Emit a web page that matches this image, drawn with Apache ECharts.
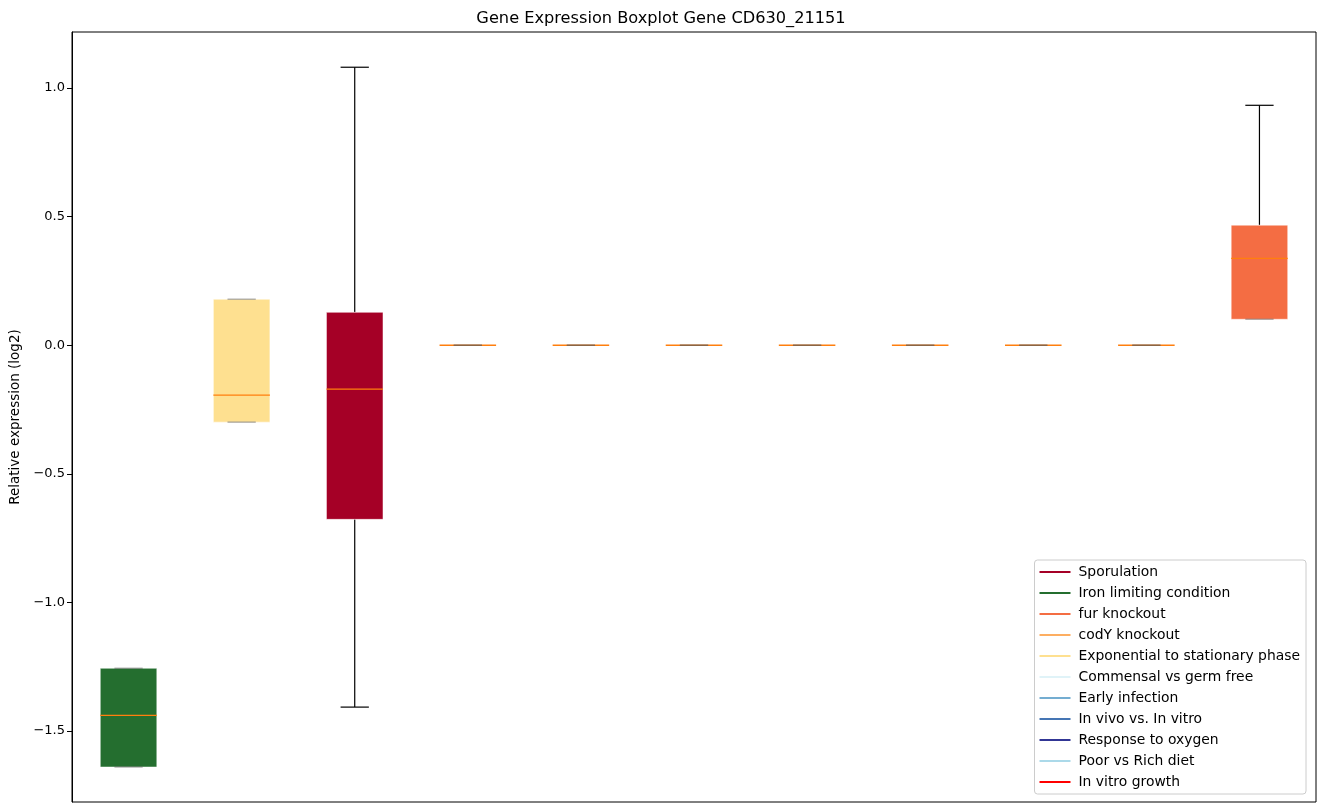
<!DOCTYPE html>
<html><head><meta charset="utf-8">
<script src="https://cdn.jsdelivr.net/npm/echarts@6/dist/echarts.min.js"></script>
<style>html,body{margin:0;padding:0;background:#fff}#c{width:1322px;height:812px}</style>
</head><body><div id="c"></div>
<script>
// Box positions (left to right)
const categories = ['Iron limiting condition','Exponential to stationary phase','Sporulation','codY knockout','Commensal vs germ free','In vitro growth','Early infection','In vivo vs. In vitro','Response to oxygen','Poor vs Rich diet','fur knockout'];
const whiskerLow  = [-1.640, -0.299, -1.407, 0, 0, 0, 0, 0, 0, 0, 0.101];
const quart1      = [-1.640, -0.299, -0.677, 0, 0, 0, 0, 0, 0, 0, 0.101];
const medians     = [-1.439, -0.194, -0.171, 0, 0, 0, 0, 0, 0, 0, 0.338];
const quart3      = [-1.256,  0.179,  0.128, 0, 0, 0, 0, 0, 0, 0, 0.467];
const whiskerHigh = [-1.256,  0.179,  1.081, 0, 0, 0, 0, 0, 0, 0, 0.933];
const boxColors   = ['#246e2f','#fee090','#a50026','#fdae61','#e0f3f8','#ff0000','#74add1','#4575b4','#313695','#abd9e9','#f46d43'];
// Legend
const legendNames  = ['Sporulation','Iron limiting condition','fur knockout','codY knockout','Exponential to stationary phase','Commensal vs germ free','Early infection','In vivo vs. In vitro','Response to oxygen','Poor vs Rich diet','In vitro growth'];
const legendColors = ['#a50026','#246e2f','#f46d43','#fdae61','#fee090','#e0f3f8','#74add1','#4575b4','#313695','#abd9e9','#ff0000'];
const yTicks = [-1.5, -1.0, -0.5, 0.0, 0.5, 1.0];

const FONT = 'DejaVu Sans';
const data = categories.map((c, i) => [i, whiskerLow[i], quart1[i], medians[i], quart3[i], whiskerHigh[i]]);

function renderItem(params, api) {
  const i = api.value(0);
  const w = api.size([1, 0])[0] * 0.5;
  const cx = api.coord([i, 0])[0];
  const yLow = api.coord([i, api.value(1)])[1];
  const yQ1 = api.coord([i, api.value(2)])[1];
  const yMed = api.coord([i, api.value(3)])[1];
  const yQ3 = api.coord([i, api.value(4)])[1];
  const yHigh = api.coord([i, api.value(5)])[1];
  const children = [];
  const black = {stroke: '#000', lineWidth: 1.2};
  if (Math.abs(yHigh - yQ3) > 0.5) {
    children.push({type: 'line', shape: {x1: cx, y1: yQ3, x2: cx, y2: yHigh}, style: black});
  }
  if (Math.abs(yLow - yQ1) > 0.5) {
    children.push({type: 'line', shape: {x1: cx, y1: yQ1, x2: cx, y2: yLow}, style: black});
  }
  children.push({type: 'rect', shape: {x: cx - w / 2, y: yQ3, width: w, height: Math.max(yQ1 - yQ3, 0)},
    style: {fill: boxColors[i], stroke: 'rgba(255,255,255,0.5)', lineWidth: 1}});
  children.push({type: 'line', shape: {x1: cx - w / 2, y1: yMed, x2: cx + w / 2, y2: yMed},
    style: {stroke: '#ff7f0e', lineWidth: 1.3}});
  const capHigh = Math.abs(yHigh - yQ3) > 0.5 ? {stroke: '#000', lineWidth: 1.2} : {stroke: 'rgba(90,90,90,0.45)', lineWidth: 1.5};
  const capLow = Math.abs(yLow - yQ1) > 0.5 ? {stroke: '#000', lineWidth: 1.2} : {stroke: 'rgba(90,90,90,0.45)', lineWidth: 1.5};
  children.push({type: 'line', shape: {x1: cx - w / 4, y1: yHigh, x2: cx + w / 4, y2: yHigh}, style: capHigh});
  children.push({type: 'line', shape: {x1: cx - w / 4, y1: yLow, x2: cx + w / 4, y2: yLow}, style: capLow});
  return {type: 'group', children};
}

const legendSeries = legendNames.map((n, k) => ({
  name: n, type: 'line', data: [], color: legendColors[k], lineStyle: {color: legendColors[k]}
}));

const chart = echarts.init(document.getElementById('c'), null, {renderer: 'canvas'});
chart.setOption({
  animation: false,
  backgroundColor: '#fff',
  textStyle: {fontFamily: FONT},
  title: {text: 'Gene Expression Boxplot Gene CD630_21151', left: 'center', top: 6,
    textStyle: {fontFamily: FONT, fontSize: 16.2, fontWeight: 'normal', color: '#000'}},
  grid: {left: 72, top: 32, width: 1244, height: 770, show: true, borderColor: '#000', borderWidth: 1, containLabel: false},
  xAxis: {type: 'category', data: categories, boundaryGap: true,
    axisLine: {show: false}, axisTick: {show: false}, axisLabel: {show: false}, splitLine: {show: false}},
  yAxis: {type: 'value', min: -1.776, max: 1.218,
    name: 'Relative expression (log2)', nameLocation: 'middle', nameGap: 50, nameRotate: 90,
    nameTextStyle: {fontFamily: FONT, fontSize: 13.5, color: '#000'},
    axisLine: {show: true, lineStyle: {color: '#000'}},
    axisTick: {show: true, length: 5, lineStyle: {color: '#000'}, customValues: yTicks},
    axisLabel: {fontFamily: FONT, fontSize: 13, color: '#000', margin: 7, customValues: yTicks,
      formatter: v => (v < 0 ? '\u2212' : '') + Math.abs(v).toFixed(1)},
    splitLine: {show: false}},
  legend: {orient: 'vertical', right: 16, bottom: 18, data: legendNames,
    icon: 'rect', itemWidth: 31, itemHeight: 2, itemGap: 7,
    padding: [5, 6, 5, 5],
    backgroundColor: '#fff', borderColor: '#cccccc', borderWidth: 1, borderRadius: 3,
    textStyle: {fontFamily: FONT, fontSize: 13.9, color: '#000', lineHeight: 14, padding: [0, 0, 0, 3]}},
  series: [{type: 'custom', renderItem, data, encode: {x: 0, y: [1, 2, 3, 4, 5]}, z: 2}].concat(legendSeries)
});
</script></body></html>
